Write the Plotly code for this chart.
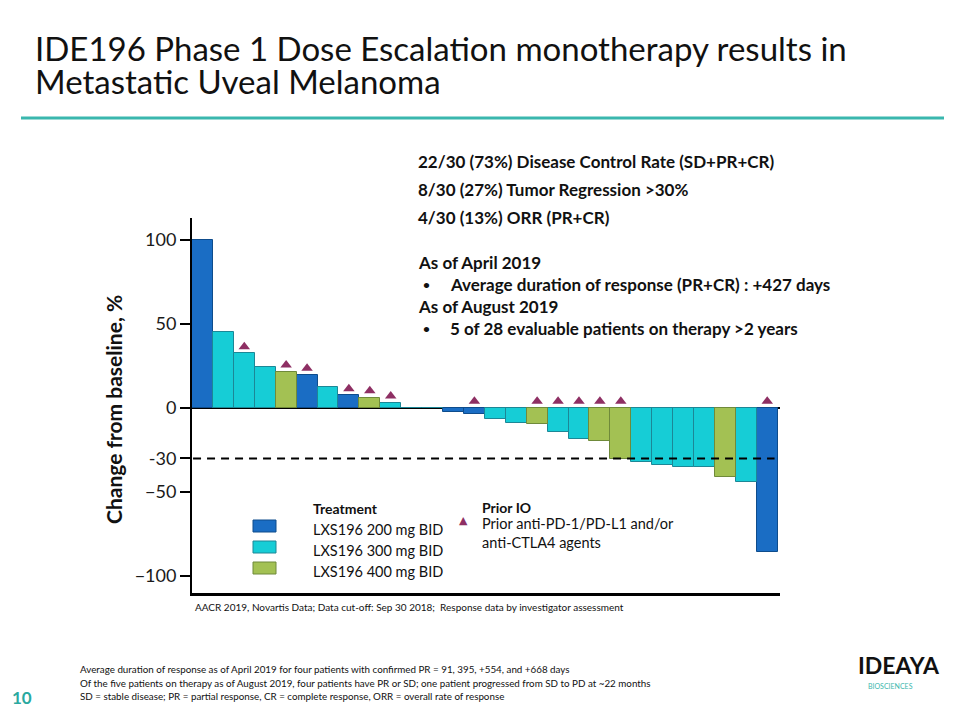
import plotly.graph_objects as go

# ---------------- data ----------------
patients = list(range(1, 29))
change_pct = [100, 45, 32.5, 24.2, 21.6, 19.6, 12.7, 7.5, 6.2, 3.2, 0, 0,
              -2.2, -3.8, -6.8, -8.7, -9.7, -14.1, -18.7, -19.6, -30.6, -32,
              -34, -35.3, -35.3, -41.3, -43.8, -85.5]
dose_mg = [200, 300, 300, 300, 400, 200, 300, 200, 400, 300, 300, 300,
           200, 200, 300, 300, 400, 300, 300, 400, 400, 300, 300, 300,
           300, 400, 300, 200]
prior_io = [0, 0, 1, 0, 1, 1, 0, 1, 1, 1, 0, 0,
            0, 1, 0, 0, 1, 1, 1, 1, 1, 0, 0, 0,
            0, 0, 0, 1]
dose_labels = {200: "LXS196 200 mg BID", 300: "LXS196 300 mg BID", 400: "LXS196 400 mg BID"}
tick_vals = [100, 50, 0, -30, -50, -100]
tick_text = ["100", "50", "0", "-30", "\u221250", "\u2212100"]
threshold = -30

stats_lines = [
    "22/30 (73%) Disease Control Rate (SD+PR+CR)",
    "8/30 (27%) Tumor Regression >30%",
    "4/30 (13%) ORR (PR+CR)",
]

# ---------------- style ----------------
FONT = "Lato"
fill = {200: "#1A6DC4", 300: "#16CDD6", 400: "#A3C153"}
edge = {200: "#0E4C8C", 300: "#1C8796", 400: "#6F8A3A"}
TRI = "#8E2F63"
TEAL = "#3AB7AE"

# plot area in page pixels (page has an 8px body margin)
OFF = 8
L, R, T, B = 192, 780, 218, 593
W, H = 960, 720


def px(x):
    return (x - L) / (R - L)


def py(y):
    return (B - y) / (B - T)


fig = go.Figure()

for d in (200, 300, 400):
    xs = [p for p, dd in zip(patients, dose_mg) if dd == d]
    ys = [v for v, dd in zip(change_pct, dose_mg) if dd == d]
    fig.add_trace(go.Bar(x=xs, y=ys, width=1, name=dose_labels[d],
                         marker=dict(color=fill[d], line=dict(color=edge[d], width=1)),
                         showlegend=False))

tri_x = [p for p, f in zip(patients, prior_io) if f]
tri_y = [max(v, 0) + 4 for v, f in zip(change_pct, prior_io) if f]
fig.add_trace(go.Scatter(x=tri_x, y=tri_y, mode="markers",
                         marker=dict(symbol="triangle-up", size=10, color=TRI),
                         showlegend=False))

fig.update_layout(
    width=W, height=H,
    margin=dict(l=L - OFF, r=W - (R - OFF), t=T - OFF, b=H - (B - OFF), pad=0),
    paper_bgcolor="white", plot_bgcolor="white",
    barmode="overlay", bargap=0,
    font=dict(family=FONT, color="#222222"),
    showlegend=False,
    xaxis=dict(range=[0.5, 28.61], showticklabels=False, ticks="", showgrid=False,
               zeroline=False, showline=True, linecolor="black", linewidth=2.5),
    yaxis=dict(range=[-110, 113], tickvals=tick_vals, ticktext=tick_text,
               ticks="outside", ticklen=10, tickwidth=1.5, tickcolor="black",
               tickfont=dict(size=18, family=FONT, color="#1a1a1a"),
               showgrid=False, zeroline=True, zerolinecolor="black", zerolinewidth=2,
               showline=True, linecolor="black", linewidth=2),
)

# threshold dashed line
fig.add_shape(type="line", xref="x", yref="y", x0=0.55, x1=28.35, y0=threshold, y1=threshold,
              line=dict(color="black", width=2, dash="8px,6px"))


def text(x, y, s, size, bold=False, color="#111111", xanchor="left", yanchor="middle", angle=0, family=FONT):
    if bold:
        s = "<b>" + s + "</b>"
    fig.add_annotation(x=px(x), y=py(y), xref="paper", yref="paper", text=s, showarrow=False,
                       xanchor=xanchor, yanchor=yanchor, textangle=angle,
                       font=dict(family=family, size=size, color=color), align="left")


# title
text(33, 48, "IDE196 Phase 1 Dose Escalation monotherapy results in", 33, color="#111111")
text(33, 81, "Metastatic Uveal Melanoma", 33, color="#111111")
fig.add_shape(type="line", xref="paper", yref="paper", x0=px(21), x1=px(944), y0=py(118), y1=py(118),
              line=dict(color=TEAL, width=3))

# stats
for s, y in zip(stats_lines, [161, 189, 217]):
    text(416, y, s, 17, bold=True)
text(416, 262, "As of April 2019", 17, bold=True)
text(421, 284, "\u2022", 12, bold=True)
text(448, 284, "Average duration of response (PR+CR) : +427 days", 17, bold=True)
text(416, 306, "As of August 2019", 17, bold=True)
text(421, 328, "\u2022", 12, bold=True)
text(448, 328, "5 of 28 evaluable patients on therapy >2 years", 17, bold=True)

# y axis title
text(113, 410, "Change from baseline, %", 21, bold=True, xanchor="center", angle=-90)

# legend: treatment
text(311, 508, "Treatment", 14, bold=True)
for d, y in zip((200, 300, 400), (529, 550, 571)):
    fig.add_shape(type="rect", xref="paper", yref="paper", x0=px(253), x1=px(276),
                  y0=py(y - 9), y1=py(y + 3), fillcolor=fill[d], line=dict(color=edge[d], width=1))
    text(311, y, dose_labels[d], 14.5)

# legend: prior IO
text(480, 507, "Prior IO", 14, bold=True)
text(480, 523, "Prior anti-PD-1/PD-L1 and/or", 14.5)
text(480, 542, "anti-CTLA4 agents", 14.5)
fig.add_annotation(x=px(463), y=py(529), xref="paper", yref="paper", text="\u25B2", showarrow=False,
                   font=dict(size=11, color=TRI, family="DejaVu Sans"))

# source
text(193, 607, "AACR 2019, Novartis Data; Data cut-off: Sep 30 2018;  Response data by investigator assessment", 10)

# footnotes
text(78, 669, "Average duration of response as of April 2019 for four patients with confirmed PR = 91, 395, +554, and +668 days", 9.8)
text(78, 683, "Of the five patients on therapy as of August 2019, four patients have PR or SD; one patient progressed from SD to PD at ~22 months", 9.8)
text(78, 696, "SD = stable disease; PR = partial response, CR = complete response, ORR = overall rate of response", 9.8)
text(10, 697, "10", 17, bold=True, color="#2AA9A0")

# logo (text approximation)
text(899, 665, "IDEAYA", 23, bold=True, color="#111111", xanchor="center")
text(890, 686, "BIOSCIENCES", 7, color=TEAL, xanchor="center")

fig.write_html("out.html")
